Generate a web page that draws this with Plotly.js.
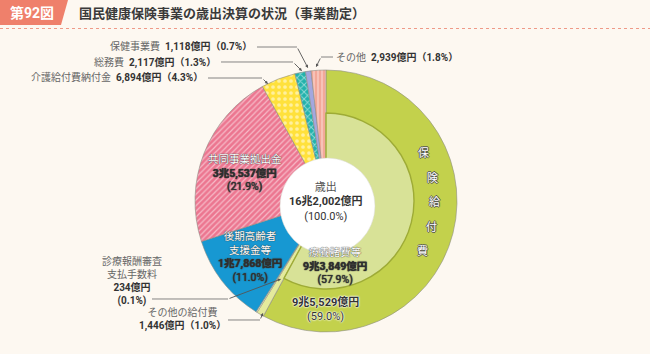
<!DOCTYPE html>
<html><head><meta charset="utf-8">
<script src="https://cdn.plot.ly/plotly-3.0.1.min.js"></script>
<style>html,body{margin:0;padding:0;background:#fdf8f1}</style>
</head><body><div id="chart" style="width:650px;height:354px"></div>
<script>
// ---- data (億円) ----
const categories = ['療養諸費等','その他の給付費','診療報酬審査支払手数料','後期高齢者支援金等','共同事業拠出金','介護給付費納付金','総務費','保健事業費','その他'];
const valuesOku = [93849,1446,234,17868,35537,6894,2117,1118,2939];
const sharePct = [57.9,1.0,0.1,11.0,21.9,4.3,1.3,0.7,1.8];
const groupName = '保険給付費';
const groupValue = 95529;
const groupPct = 59.0;
const totalName = '歳出';
const totalValue = 162002;
const totalPct = 100.0;
const figNo = '第92図';
const titleText = '国民健康保険事業の歳出決算の状況（事業勘定）';

// ---- styles ----
const outerColors = ['#c3d14c','#e4ea9c','#f3f5d0','#1798d2','#ec7690','#ffe13c','#22b2ac','#a3a7df','#f3a899'];
const outerShapes = ['','','','','/','.','x','','|'];
const outerSize   = [8,8,8,8,4,6,5,8,4];
const outerSol    = [0.3,0.3,0.3,0.3,0.3,0.3,0.35,0.3,0.3];
const innerColors = ['#d8e297','rgba(0,0,0,0)','rgba(0,0,0,0)','rgba(0,0,0,0)','rgba(0,0,0,0)','rgba(0,0,0,0)','rgba(0,0,0,0)','rgba(0,0,0,0)','rgba(0,0,0,0)'];
const innerLineW  = [1.4,0,0,0,0,0,0,0,0];

const W = 650, H = 354;
const X = p => p / W;
const Y = p => 1 - p / H;
const FONT = 'Roboto, "Noto Sans CJK JP", sans-serif';

function fmtOku(v){
  if (v >= 10000){
    const cho = Math.floor(v/10000), rest = v % 10000;
    return cho + '兆' + rest.toLocaleString('en-US') + '億円';
  }
  return v.toLocaleString('en-US') + '億円';
}
const fmtPct = p => p.toFixed(1) + '%';
const idx = n => categories.indexOf(n);

const outer = {
  type:'pie', labels:categories, values:valuesOku, sort:false, direction:'clockwise', rotation:0,
  textinfo:'none', hoverinfo:'skip', showlegend:false,
  domain:{x:[X(195),X(457)], y:[Y(332),Y(70)]},
  marker:{colors:outerColors, line:{color:'#8d8d84', width:0.6},
    pattern:{shape:outerShapes, bgcolor:outerColors, fgcolor:'#ffffff', size:outerSize, solidity:outerSol, fillmode:'overlay'}}
};
const inner = {
  type:'pie', labels:categories, values:valuesOku, sort:false, direction:'clockwise', rotation:0,
  textinfo:'none', hoverinfo:'skip', showlegend:false,
  domain:{x:[X(238),X(414)], y:[Y(289),Y(113)]},
  marker:{colors:innerColors, line:{color:'#9eab36', width:innerLineW}}
};

const shapes = [];
function pathPx(pts, close){
  return pts.map((p,i)=>(i?'L':'M')+X(p[0]).toFixed(5)+','+Y(p[1]).toFixed(5)).join(' ')+(close?' Z':'');
}
// tab
shapes.push({type:'path', xref:'paper', yref:'paper', path:pathPx([[0,0],[68,0],[61,25],[0,25]],true), fillcolor:'#ef806b', line:{width:0}});
// dotted rule
shapes.push({type:'line', xref:'paper', yref:'paper', x0:0, x1:1, y0:Y(28.5), y1:Y(28.5), line:{color:'#ef9a88', width:1.2, dash:'dot'}});
// white center
shapes.push({type:'circle', xref:'paper', yref:'paper', x0:X(280), x1:X(375), y0:Y(254), y1:Y(158), fillcolor:'#ffffff', line:{color:'#d8d8d0', width:0.5}, layer:'above'});

const annotations = [];
function txt(x,y,text,opt){
  opt = opt||{};
  annotations.push({xref:'paper', yref:'paper', x:X(x), y:Y(y), text:text, showarrow:false,
    xanchor:opt.xa||'center', yanchor:'middle', align:'center', borderpad:0,
    font:{family:FONT, size:opt.size||11, color:opt.color||'#333', shadow:opt.shadow||'none'}});
}
const haloW = '0 0 2px #ffffff, 0 0 2px #ffffff, 0 0 1px #ffffff';
const softD = '0 0 1px #3a3a3a, 0 0 1px #3a3a3a';
const outlineD = '1px 0 0 #555, -1px 0 0 #555, 0 1px 0 #555, 0 -1px 0 #555';

// header
txt(32,13,'<b>'+figNo+'</b>',{size:14,color:'#ffffff'});
txt(78,14,'<b>'+titleText+'</b>',{xa:'left',size:13,color:'#3a3a3a'});

// leader lines: [horizontal start, bend, tip]
const leaders = [
  [[257,47],[297,47],[308,68]],
  [[221,62],[293,62],[302,71]],
  [[208,78],[262,78],[268,84]],
  [[333,57],[321,57],[316,67]],
  [[152,299],[228,299],[281,279]],
  [[228,320],[260,320],[263,313]]
];
leaders.forEach(l=>{
  shapes.push({type:'path', xref:'paper', yref:'paper', path:pathPx([l[0],l[1]]), line:{color:'#777', width:0.9}});
  annotations.push({xref:'paper', yref:'paper', x:X(l[2][0]), y:Y(l[2][1]), ax:l[1][0]-l[2][0], ay:l[1][1]-l[2][1],
    axref:'pixel', ayref:'pixel', text:'', showarrow:true, arrowhead:2, arrowsize:0.7, arrowwidth:0.9, arrowcolor:'#555', standoff:0});
});

function outsideLabel(name, x, y, xa){
  const i = idx(name);
  txt(x,y,'<span style="color:#666">'+name+'</span>  <b>'+fmtOku(valuesOku[i])+'（'+fmtPct(sharePct[i])+'）</b>',{xa:xa,size:10});
}
outsideLabel('保健事業費',253,47,'right');
outsideLabel('総務費',217,62,'right');
outsideLabel('介護給付費納付金',204,78,'right');
outsideLabel('その他',335,57,'left');

// inside labels (one block each)
function inside(name, nameLines, x, yc){
  const i = idx(name);
  const t = nameLines.map(s=>'<span style="color:#ffffff">'+s+'</span>').join('<br>')
    + '<br><b>'+fmtOku(valuesOku[i])+'</b><br>('+fmtPct(sharePct[i])+')';
  txt(x,yc,t,{color:'#2e2e2e',shadow:softD,size:10.5});
}
inside('共同事業拠出金',['共同事業拠出金'],245,172.5);
inside('後期高齢者支援金等',['後期高齢者','支援金等'],250,257);
inside('療養諸費等',['療養諸費等'],335,265.5);

// center
txt(326,202,'<span style="color:#555">'+totalName+'</span><br><b>'+fmtOku(totalValue)+'</b><br>('+fmtPct(totalPct)+')',{size:11});

// outer group
txt(326,308.5,'<b>'+fmtOku(groupValue)+'</b><br>('+fmtPct(groupPct)+')',{shadow:haloW,size:11});
const vpos = [[423,153],[432,178],[434,202],[431,227],[422,251]];
groupName.split('').forEach((c,k)=>txt(vpos[k][0],vpos[k][1],c,{color:'#ffffff',shadow:outlineD,size:11}));

// 審査 label
const iS = idx('診療報酬審査支払手数料');
txt(132,281,'<span style="color:#666">診療報酬審査<br>支払手数料</span><br><b>'+fmtOku(valuesOku[iS])+'<br>('+fmtPct(sharePct[iS])+')</b>',{size:10});

// その他の給付費
const iO = idx('その他の給付費');
txt(182,319,'<span style="color:#666">その他の給付費</span><br><b>'+fmtOku(valuesOku[iO])+'（'+fmtPct(sharePct[iO])+'）</b>',{size:10});

const layout = {
  width:W, height:H, margin:{l:0,r:0,t:0,b:0},
  paper_bgcolor:'#fdf8f1', plot_bgcolor:'#fdf8f1',
  shapes:shapes, annotations:annotations, showlegend:false
};
Plotly.newPlot('chart',[outer,inner],layout,{displayModeBar:false,staticPlot:true});
</script></body></html>
